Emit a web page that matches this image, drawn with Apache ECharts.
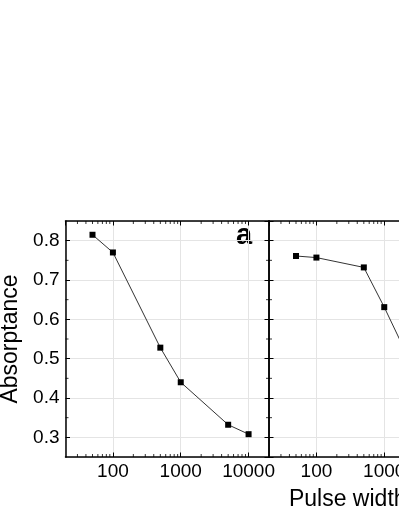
<!DOCTYPE html>
<html>
<head>
<meta charset="UTF-8">
<title>Absorptance vs pulse width</title>
<script src="https://cdn.jsdelivr.net/npm/echarts@6/dist/echarts.min.js"></script>
<style>
	html, body { margin: 0; padding: 0; background: #fff; }
	#chart { width: 399px; height: 516px; }
</style>
</head>
<body>
<div id="chart"></div>
<script>
// pulse width (ns) and absorptance, panel a
var widthA = [50, 100, 500, 1000, 5000, 10000];
var absA = [0.815, 0.770, 0.528, 0.440, 0.332, 0.308];
// panel b (last two points lie outside the visible crop)
var widthB = [50, 100, 500, 1000, 5000, 10000];
var absB = [0.761, 0.757, 0.732, 0.631, 0.378, 0.350];

// minor tick values
var xMinor = [30, 40, 50, 60, 70, 80, 90, 200, 300, 400, 500, 600, 700, 800, 900,
	2000, 3000, 4000, 5000, 6000, 7000, 8000, 9000];
var yMinor = [0.35, 0.45, 0.55, 0.65, 0.75];

var X_MIN = 20, X_MAX = 20000, Y_MIN = 0.25, Y_MAX = 0.85;
var FONT = 'Liberation Sans, Arial, sans-serif';

function pairs(xs, ys) {
	return xs.map(function (x, i) { return [x, ys[i]]; });
}

function xAxisCfg(grid, pos, labels, name) {
	return {
		type: 'log', logBase: 10, gridIndex: grid, position: pos,
		min: X_MIN, max: X_MAX,
		name: name || '', nameLocation: 'middle', nameGap: 31,
		nameTextStyle: { color: '#000', fontSize: 23, fontFamily: FONT },
		axisLine: { lineStyle: { color: '#000', width: 1.5 } },
		axisTick: { inside: true, length: 4.5, lineStyle: { color: '#000', width: 1 } },
		axisLabel: {
			show: labels, showMinLabel: false, showMaxLabel: false,
			color: '#000', fontSize: 19, margin: 5, fontFamily: FONT,
			formatter: function (v) { return String(Math.round(v)); }
		},
		splitLine: { show: pos === 'bottom', lineStyle: { color: '#e4e4e4', width: 1 } }
	};
}

function yAxisCfg(grid, pos, labels, name) {
	return {
		type: 'value', gridIndex: grid, position: pos,
		min: Y_MIN, max: Y_MAX,
		name: name || '', nameLocation: 'middle', nameGap: 42,
		nameTextStyle: { color: '#000', fontSize: 23, fontFamily: FONT },
		axisLine: { show: true, lineStyle: { color: '#000', width: 1.5 } },
		axisTick: { show: true, inside: true, length: 4.5, lineStyle: { color: '#000', width: 1 } },
		axisLabel: {
			show: labels, showMinLabel: false, showMaxLabel: false,
			color: '#000', fontSize: 19, margin: 6, fontFamily: FONT,
			formatter: function (v) { return v.toFixed(1); }
		},
		splitLine: { show: pos === 'left', lineStyle: { color: '#e4e4e4', width: 1 } }
	};
}

// short tick marks drawn as tiny rects
function tickSeries(xi, yi, data, size, offset) {
	return {
		type: 'scatter', xAxisIndex: xi, yAxisIndex: yi,
		data: data, symbol: 'rect', symbolSize: size, symbolOffset: offset,
		itemStyle: { color: '#000' }, silent: true, clip: false, z: 5,
		animation: false
	};
}

function dataLine(xi, yi, data) {
	return {
		type: 'line', xAxisIndex: xi, yAxisIndex: yi, data: data,
		symbol: 'rect', symbolSize: 6, showSymbol: true,
		lineStyle: { color: '#333', width: 1 },
		itemStyle: { color: '#000' }, z: 3
	};
}

var bottomMinor = xMinor.map(function (v) { return [v, Y_MIN]; });
var topMinor = xMinor.map(function (v) { return [v, Y_MAX]; });
var leftMinor = yMinor.map(function (v) { return [X_MIN, v]; });
var rightMinor = yMinor.map(function (v) { return [X_MAX, v]; });

var chart = echarts.init(document.getElementById('chart'), null, { renderer: 'canvas' });
chart.setOption({
	animation: false,
	backgroundColor: '#fff',
	textStyle: { fontFamily: FONT },
	grid: [
		{ left: 65.5, top: 221, width: 203.5, height: 236, containLabel: false, outerBoundsMode: 'none' },
		{ left: 269, top: 221, width: 203.5, height: 236, containLabel: false, outerBoundsMode: 'none' }
	],
	xAxis: [
		xAxisCfg(0, 'bottom', true),
		xAxisCfg(0, 'top', false),
		xAxisCfg(1, 'bottom', true, 'Pulse width (ns)'),
		xAxisCfg(1, 'top', false)
	],
	yAxis: [
		yAxisCfg(0, 'left', true, 'Absorptance'),
		yAxisCfg(0, 'right', false),
		yAxisCfg(1, 'left', false),
		yAxisCfg(1, 'right', false)
	],
	graphic: [{
		type: 'text', x: 236, y: 236,
		style: { text: 'a', font: 'bold 29px ' + FONT, fill: '#000', verticalAlign: 'middle' }
	}],
	series: [
		dataLine(0, 0, pairs(widthA, absA)),
		dataLine(2, 2, pairs(widthB, absB)),
		tickSeries(0, 0, bottomMinor, [1, 3], [0, -1.5]),
		tickSeries(0, 0, topMinor, [1, 3], [0, 1.5]),
		tickSeries(0, 0, leftMinor, [3, 1], [1.5, 0]),
		tickSeries(0, 0, rightMinor, [3, 1], [-1.5, 0]),
		tickSeries(2, 2, bottomMinor, [1, 3], [0, -1.5]),
		tickSeries(2, 2, topMinor, [1, 3], [0, 1.5]),
		tickSeries(2, 2, leftMinor, [3, 1], [1.5, 0])
	]
});
</script>
</body>
</html>
